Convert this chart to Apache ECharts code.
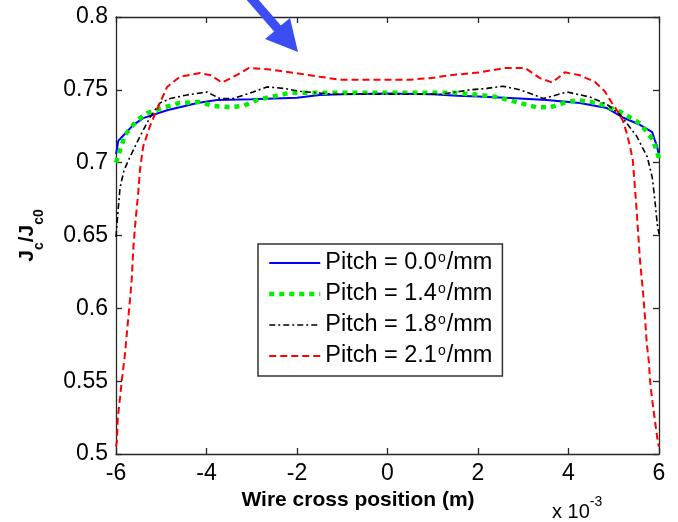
<!DOCTYPE html>
<html>
<head>
<meta charset="utf-8">
<script src="https://cdn.jsdelivr.net/npm/echarts@6/dist/echarts.min.js"></script>
<style>
  html, body { margin: 0; padding: 0; background: #fff; }
  #chart { width: 678px; height: 522px; }
</style>
</head>
<body>
<div id="chart"></div>
<script>
// Normalised critical current density across the wire (x in units of 1e-3 m)
const seriesNames = ['Pitch = 0.0º/mm', 'Pitch = 1.4º/mm', 'Pitch = 1.8º/mm', 'Pitch = 2.1º/mm'];
const seriesColors = ['#0000ff', '#00ee00', '#000000', '#ff0000'];

const pitch00Pos = [-6, -5.98, -5.95, -5.87, -5.62, -5.4, -4.87, -4.2, -3.77, -3, -2, -1.5, -1, 0, 1, 1.54, 2, 2.71, 3.52, 4.25, 4.85, 5.2, 5.58, 5.85, 5.9, 5.95, 6];
const pitch00Val = [0.706, 0.709, 0.715, 0.7176, 0.7258, 0.7306, 0.736, 0.741, 0.743, 0.7435, 0.7446, 0.7464, 0.747, 0.7475, 0.747, 0.746, 0.7455, 0.7444, 0.743, 0.741, 0.7375, 0.731, 0.726, 0.721, 0.716, 0.712, 0.705];

const pitch14Pos = [-6, -5.91, -5.8, -5.54, -5.31, -4.98, -4.59, -4.14, -3.86, -3.48, -3.19, -2.88, -2.6, -2.15, -1.56, -1.2, -0.54, 0.21, 0.94, 1.45, 2.04, 2.42, 2.86, 3.3, 3.59, 3.9, 4.19, 4.63, 5.14, 5.58, 5.87, 6];
const pitch14Val = [0.700, 0.7086, 0.719, 0.729, 0.734, 0.7375, 0.741, 0.7416, 0.739, 0.738, 0.739, 0.743, 0.745, 0.748, 0.748, 0.748, 0.748, 0.748, 0.748, 0.748, 0.7465, 0.745, 0.7415, 0.738, 0.738, 0.741, 0.743, 0.741, 0.735, 0.727, 0.7155, 0.703];

const pitch18Pos = [-6, -5.96, -5.91, -5.82, -5.69, -5.47, -5.25, -5.03, -4.8, -4.43, -3.99, -3.7, -3.41, -2.97, -2.66, -2.3, -1.93, -1.2, 0, 1.2, 1.82, 2.2, 2.55, 2.93, 3.2, 3.44, 3.97, 4.48, 4.85, 5.14, 5.51, 5.74, 5.85, 5.91, 5.96, 6];
const pitch18Val = [0.649, 0.665, 0.683, 0.695, 0.704, 0.718, 0.731, 0.741, 0.744, 0.7465, 0.7485, 0.744, 0.744, 0.7485, 0.752, 0.751, 0.749, 0.747, 0.747, 0.747, 0.750, 0.751, 0.7525, 0.750, 0.747, 0.744, 0.7485, 0.745, 0.740, 0.733, 0.718, 0.704, 0.690, 0.674, 0.658, 0.651];

const pitch21Pos = [-6, -5.98, -5.96, -5.91, -5.87, -5.8, -5.76, -5.69, -5.65, -5.62, -5.58, -5.51, -5.47, -5.4, -5.25, -5.03, -4.87, -4.59, -4.14, -3.9, -3.66, -3.4, -3.06, -2.6, -1.93, -1.5, -1.05, -0.5, 0, 0.5, 0.94, 1.38, 2.04, 2.6, 3.04, 3.37, 3.64, 3.92, 4.25, 4.58, 4.8, 4.96, 5.07, 5.2, 5.29, 5.36, 5.42, 5.45, 5.49, 5.53, 5.58, 5.65, 5.69, 5.73, 5.78, 5.8, 5.85, 5.91, 5.98, 6];
const pitch21Val = [0.505, 0.509, 0.525, 0.539, 0.551, 0.569, 0.583, 0.606, 0.621, 0.640, 0.656, 0.679, 0.695, 0.711, 0.725, 0.741, 0.752, 0.759, 0.7615, 0.760, 0.755, 0.759, 0.765, 0.764, 0.761, 0.759, 0.757, 0.757, 0.757, 0.757, 0.758, 0.760, 0.762, 0.765, 0.765, 0.758, 0.755, 0.762, 0.760, 0.7555, 0.749, 0.741, 0.736, 0.729, 0.720, 0.711, 0.702, 0.690, 0.674, 0.656, 0.633, 0.610, 0.594, 0.576, 0.562, 0.551, 0.537, 0.523, 0.507, 0.505];

const xTicks = { min: -6, max: 6, step: 2 };
const yTicks = { min: 0.5, max: 0.8, step: 0.05 };

const positions = [pitch00Pos, pitch14Pos, pitch18Pos, pitch21Pos];
const values = [pitch00Val, pitch14Val, pitch18Val, pitch21Val];
const lineStyles = [
  { width: 2, type: 'solid' },
  { width: 4.5, type: [5, 5] },
  { width: 1.6, type: [6, 3, 2, 3] },
  { width: 2, type: [7, 4] }
];

const FONT = 'Liberation Sans, Arial, sans-serif';
const axisColor = '#262626';

const chart = echarts.init(document.getElementById('chart'), null, { renderer: 'canvas' });

const series = seriesNames.map((name, i) => ({
  name,
  type: 'line',
  symbol: 'none',
  smooth: false,
  animation: false,
  color: seriesColors[i],
  lineStyle: Object.assign({ color: seriesColors[i], cap: 'butt' }, lineStyles[i]),
  data: positions[i].map((x, k) => [x, values[i][k]])
}));

const boxAxisX = (pos, show) => ({
  type: 'value', position: pos, min: xTicks.min, max: xTicks.max, interval: xTicks.step,
  axisLine: { show: true, onZero: false, lineStyle: { color: axisColor, width: 1.3 } },
  axisTick: { show: true, inside: true, length: 6, lineStyle: { color: axisColor, width: 1.3 } },
  axisLabel: { show: show, color: '#000', fontFamily: FONT, fontSize: 23, margin: 8 },
  splitLine: { show: false }
});
const boxAxisY = (pos, show) => ({
  type: 'value', position: pos, min: yTicks.min, max: yTicks.max, interval: yTicks.step,
  axisLine: { show: true, onZero: false, lineStyle: { color: axisColor, width: 1.3 } },
  axisTick: { show: true, inside: true, length: 6, lineStyle: { color: axisColor, width: 1.3 } },
  axisLabel: { show: show, color: '#000', fontFamily: FONT, fontSize: 23, margin: 8,
    formatter: v => String(parseFloat(v.toFixed(2))) },
  splitLine: { show: false }
});

const xMain = boxAxisX('bottom', true);
xMain.name = 'Wire cross position (m)';
xMain.nameLocation = 'middle';
xMain.nameGap = 32;
xMain.nameTextStyle = { fontFamily: FONT, fontSize: 21, fontWeight: 'bold', color: '#000', padding: [0, 59, 0, 0] };

const yMain = boxAxisY('left', true);
yMain.name = '{a|J}{b|c}{a|/J}{b|c0}';
yMain.nameLocation = 'middle';
yMain.nameRotate = 90;
yMain.nameGap = 70;
yMain.nameTextStyle = {
  fontFamily: FONT, color: '#000',
  rich: {
    a: { fontFamily: FONT, fontSize: 21, fontWeight: 'bold', lineHeight: 38, color: '#000' },
    b: { fontFamily: FONT, fontSize: 14, fontWeight: 'bold', lineHeight: 14, verticalAlign: 'bottom', color: '#000' }
  }
};

const option = {
  animation: false,
  backgroundColor: '#fff',
  grid: { left: 116, right: 19, top: 17, bottom: 68, containLabel: false },
  xAxis: [xMain, boxAxisX('top', false)],
  yAxis: [yMain, boxAxisY('right', false)],
  legend: {
    orient: 'vertical',
    left: 258, top: 244,
    backgroundColor: '#fff',
    borderColor: '#333', borderWidth: 1.5, borderRadius: 0,
    padding: [7, 10, 8, 9],
    itemWidth: 51, itemHeight: 14, itemGap: 7,
    selectedMode: false,
    // line samples only, no marker in the middle
    itemStyle: { opacity: 0 },
    formatter: name => name.replace('º', '{o|o}'),
    textStyle: {
      fontFamily: FONT, fontSize: 23.5, color: '#000', lineHeight: 24,
      rich: { o: { fontFamily: FONT, fontSize: 14, lineHeight: 13, verticalAlign: 'top', padding: [0, 1, 0, 1], color: '#000' } }
    },
    data: seriesNames.map((name, i) => ({
      name,
      lineStyle: { width: lineStyles[i].width, type: lineStyles[i].type, color: seriesColors[i] }
    }))
  },
  graphic: [
    {
      type: 'text', left: 552, top: 495, silent: true,
      style: {
        text: '{n|x 10}{s|-3}', fill: '#000',
        rich: {
          n: { fontFamily: FONT, fontSize: 20, lineHeight: 34, fill: '#000' },
          s: { fontFamily: FONT, fontSize: 14, lineHeight: 14, verticalAlign: 'top', fill: '#000' }
        }
      }
    },
    {
      // pointer arrow above the top of the 2.1º/mm curve
      type: 'polygon', silent: true, z: 10,
      shape: { points: [[244.6, -2.4], [251.4, -8.4], [280.9, 25.5], [290, 18], [298, 52], [265, 39], [274.1, 31.5]] },
      style: { fill: '#3a4ef3' }
    }
  ],
  series
};
chart.setOption(option);
</script>
</body>
</html>
